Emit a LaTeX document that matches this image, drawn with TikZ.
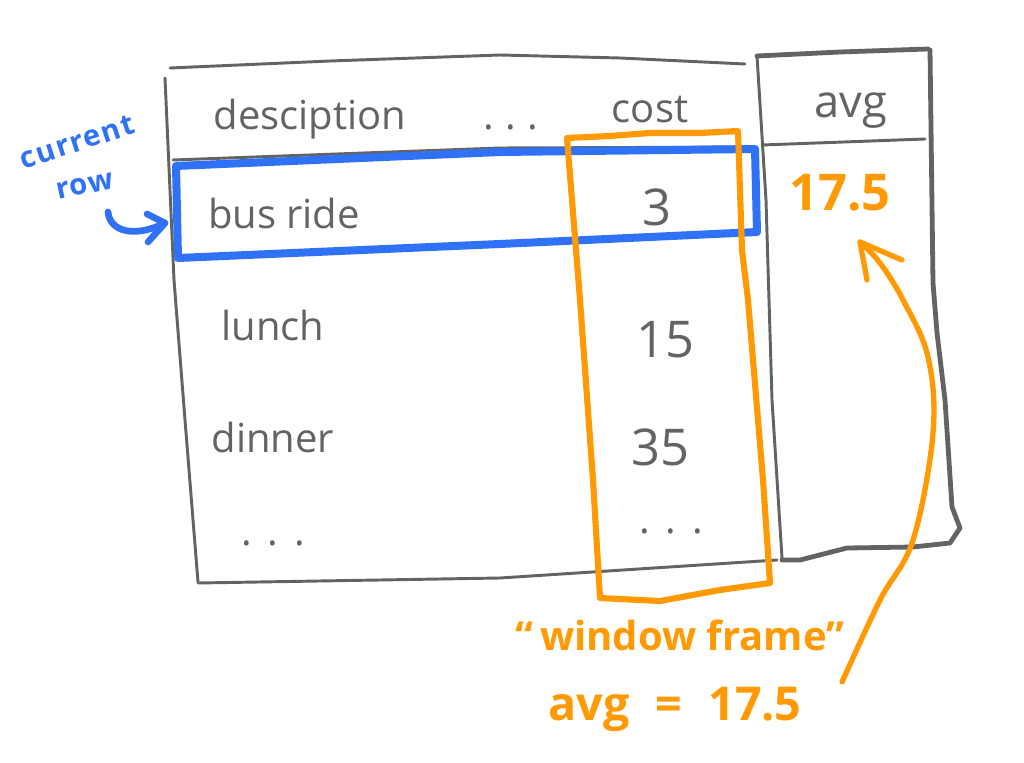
\documentclass[tikz,border=0pt]{standalone}
\usepackage{fontspec}
\setmainfont{Open Sans}
\definecolor{ink}{HTML}{636363}
\definecolor{hblue}{HTML}{2F72F7}
\definecolor{horange}{HTML}{FF9A05}
\begin{document}
\begin{tikzpicture}[x=0.75pt,y=-0.75pt,line cap=round,line join=round,
  gline/.style={draw=ink,line width=2.2pt},
  gthick/.style={draw=ink,line width=3.6pt},
  bline/.style={draw=hblue,line width=6pt},
  oline/.style={draw=horange,line width=4.6pt},
  oarrow/.style={draw=horange,line width=4pt},
  gtext/.style={text=ink,inner sep=0pt,anchor=base,font=\fontsize{30}{30}\selectfont},
  gnum/.style={text=ink,inner sep=0pt,anchor=base,font=\fontsize{38}{38}\selectfont},
  otext/.style={text=horange,inner sep=0pt,anchor=base,font=\fontsize{30}{30}\selectfont\bfseries},
  btext/.style={text=hblue,inner sep=0pt,font=\fontsize{22}{22}\selectfont\bfseries\addfontfeature{LetterSpace=5}}]
\useasboundingbox (0,0) rectangle (1024,763);
\fill[white] (0,0) rectangle (1024,763);

% main table frame
\draw[gline] (170,68) -- (330,61) -- (500,55) -- (620,58) -- (745,64);
\draw[gline] (165,78) -- (174,280) -- (185,420) -- (198,582);
\draw[gline] (198,583) -- (500,578) -- (777,560);
\draw[gline] (173,160) -- (500,148) -- (757,147);

% avg column frame
\draw[gthick] (757,56) -- (840,52) -- (928,49);
\draw[gline] (757,56) -- (766,200) -- (772,400) -- (782,558);
\draw[gthick] (930,50) -- (933,283) -- (937,333) -- (945,400) -- (952,507) -- (960,528) -- (950,543) -- (913,547) -- (847,548) -- (800,560) -- (782,560);
\draw[gline] (762,145) -- (925,139);

% texts in table
\node[gtext] (hdesc) at (310,130) {desciption};
\node[gtext] (hdots) at (511,130) {.\hspace{0.28em}.\hspace{0.28em}.};
\node[gtext] (hcost) at (650,123) {cost};
\node[gtext,font=\fontsize{34}{34}\selectfont] (havg) at (851,118) {avg};
\node[gtext] (r1) at (284,228) {bus ride};
\node[gnum] (c1) at (657,225) {3};
\node[gtext] (r2) at (273,340) {lunch};
\node[gnum] (c2) at (665,357) {15};
\node[gtext] (r3) at (273,452) {dinner};
\node[gnum] (c3) at (660,465) {35};
\node[gtext] (r4) at (273,545) {.\hspace{0.4em}.\hspace{0.4em}.};
\node[gtext] (c4) at (671,533) {.\hspace{0.4em}.\hspace{0.4em}.};
\node[otext,font=\fontsize{38}{38}\selectfont\bfseries] (avgval) at (840,210) {17.5};

% current row highlight
\draw[bline] (176,166) -- (500,152) -- (755,149) -- (757,232) -- (500,244) -- (178,258) -- cycle;
\node[btext,rotate=18] (lcur) at (77,142) {current};
\node[btext,rotate=12] (lrow) at (85,186) {row};
\coordinate (bstart) at (108,212);
\coordinate (btip) at (165,223);
\draw[hblue,line width=5pt] (bstart) .. controls (110,232) and (135,238) .. (btip);
\draw[hblue,line width=5pt] (147,214) -- (btip) -- (148,242);

% window frame
\draw[oline] (567,138) -- (610,136) -- (650,133) -- (700,133) -- (738,131) -- (742,250) -- (748,300) -- (763,480) -- (770,583) -- (720,590) -- (660,601) -- (600,598) -- (593,480) -- (580,300) -- (572,200) -- cycle;
\node[otext] (lwin) at (680,650) {\char"201C\,window frame\char"201D};
\node[otext,font=\fontsize{35}{35}\selectfont\bfseries] (lavg) at (675,720) {avg\hspace{0.3em} =\hspace{0.3em} 17.5};

% arrow to avg value
\coordinate (ostart) at (842,682);
\coordinate (otip) at (860,242);
\draw[oarrow] plot[smooth,tension=0.6] coordinates {(ostart) (880,600) (913,540) (933,433) (928,357) (903,300) (880,263) (otip)};
\draw[oarrow] (867,280) -- (otip) -- (902,260);
\end{tikzpicture}
\end{document}
